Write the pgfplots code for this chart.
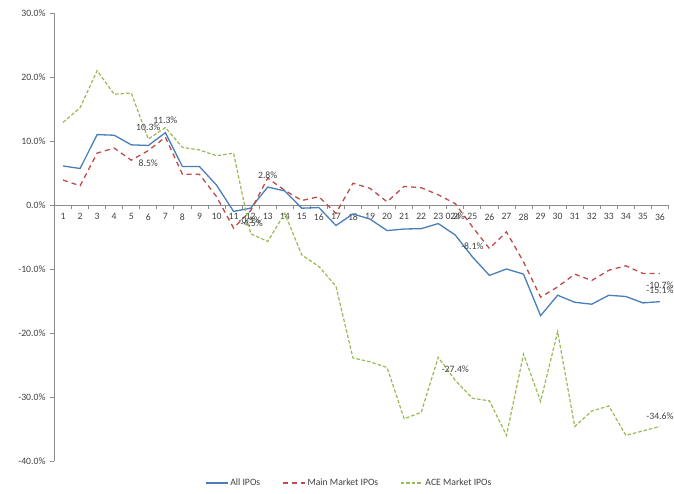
\documentclass[border=0pt]{standalone}
\usepackage{pgfplots}
\pgfplotsset{compat=1.18}
\usepackage{pgfplotstable}
\usepackage{fontspec}
\setmainfont{Carlito}

\definecolor{allblue}{RGB}{74,126,187}
\definecolor{mainred}{RGB}{190,75,72}
\definecolor{acegreen}{RGB}{152,185,84}
\definecolor{axisgray}{RGB}{140,140,140}
\definecolor{labelgray}{RGB}{64,64,64}

% Cumulative returns (%) of IPOs by month after listing
\pgfplotstableread{
n  all    main   ace
1   6.1    3.9   12.9
2   5.7    3.0   15.2
3  11.0    8.1   21.0
4  10.9    8.9   17.3
5   9.4    7.0   17.5
6   9.3    8.5   10.3
7  11.3   10.6   12.1
8   6.0    4.8    9.0
9   6.0    4.8    8.6
10  3.1    1.3    7.7
11 -1.0   -3.6    8.1
12 -0.5   -0.9   -4.5
13  2.8    4.2   -5.7
14  2.2    2.3   -1.3
15 -0.5    0.7   -7.8
16 -0.4    1.3   -9.6
17 -3.2   -1.3  -12.7
18 -1.4    3.4  -23.9
19 -2.2    2.6  -24.5
20 -4.0    0.5  -25.4
21 -3.75   2.9  -33.4
22 -3.7    2.7  -32.4
23 -2.9    1.6  -23.8
24 -4.7    0.2  -27.4
25 -8.1   -3.4  -30.2
26 -11.0  -6.8  -30.6
27 -10.0  -4.2  -36.0
28 -10.8  -8.9  -23.3
29 -17.3 -14.4  -30.7
30 -14.1 -12.8  -19.8
31 -15.2 -10.8  -34.6
32 -15.5 -11.8  -32.2
33 -14.1 -10.2  -31.4
34 -14.3  -9.5  -36.0
35 -15.3 -10.7  -35.3
36 -15.1 -10.7  -34.6
}\ipodata

\begin{document}
\begin{tikzpicture}[lbl/.style={font=\fontsize{9.7}{11}\selectfont, text=labelgray, inner sep=0pt}]
\begin{axis}[
  scale only axis, width=614pt, height=448pt,
  xmin=0.5, xmax=36.5, ymin=-40, ymax=30,
  axis x line=middle, axis y line=left,
  axis line style={axisgray, line width=0.8pt, -},
  tick align=outside,
  tick style={axisgray, line width=0.8pt},
  xtick={1,...,36},
  major x tick style={draw=none},
  minor xtick={0.5,1.5,...,36.5},
  minor tick length=4pt,
  major tick length=4pt,
  ytick={-40,-30,...,30},
  /pgf/number format/assume math mode=true,
  yticklabel={\pgfmathprintnumber[fixed,fixed zerofill,precision=1]{\tick}\%},
  xticklabel style={font=\fontsize{9.7}{11}\selectfont, text=labelgray, yshift=-1pt},
  yticklabel style={font=\fontsize{9.7}{11}\selectfont, text=labelgray, xshift=-1.5pt},
  legend style={at={(0.48,-0.049)}, anchor=center, legend columns=3, draw=none,
    font=\fontsize{9.7}{11}\selectfont, text=labelgray,
    /tikz/every even column/.append style={column sep=20pt}},
  legend image code/.code={\draw[#1] (0pt,0pt) -- (22pt,0pt);},
  clip=false,
]
\addplot[allblue, line width=1.3pt] table[x=n, y=all] {\ipodata};
\addlegendentry{All IPOs}
\addplot[mainred, line width=1.3pt, dash pattern=on 5pt off 4pt] table[x=n, y=main] {\ipodata};
\addlegendentry{Main Market IPOs}
\addplot[acegreen, line width=1.2pt, dash pattern=on 3.5pt off 2pt] table[x=n, y=ace] {\ipodata};
\addlegendentry{ACE Market IPOs}

% value labels
\node[lbl, yshift=12pt] at (axis cs:6,10.3) {10.3\%};
\node[lbl, yshift=12.5pt] at (axis cs:7,11.3) {11.3\%};
\node[lbl, yshift=-13pt] at (axis cs:6,8.5) {8.5\%};
\node[lbl, yshift=-12pt, xshift=-1pt] at (axis cs:12,-0.5) {-0.5\%};
\node[lbl, yshift=11pt, xshift=1pt] at (axis cs:12,-4.5) {-4.5\%};
\node[lbl, yshift=12pt] at (axis cs:13,2.8) {2.8\%};
\node[lbl, yshift=-13pt] at (axis cs:24,0.2) {0.2\%};
\node[lbl, yshift=11pt] at (axis cs:25,-8.1) {-8.1\%};
\node[lbl, yshift=11pt] at (axis cs:24,-27.4) {-27.4\%};
\node[lbl, yshift=10pt] at (axis cs:36,-34.6) {-34.6\%};
\node[lbl, yshift=-12pt] at (axis cs:36,-10.7) {-10.7\%};
\node[lbl, yshift=11pt] at (axis cs:36,-15.1) {-15.1\%};

\coordinate (sw) at (rel axis cs:0,0);
\coordinate (ne) at (rel axis cs:1,1);
\end{axis}
\pgfresetboundingbox
\path ([shift={(-54.5pt,-33pt)}]sw) rectangle ([shift={(5.5pt,13pt)}]ne);
\end{tikzpicture}
\end{document}
